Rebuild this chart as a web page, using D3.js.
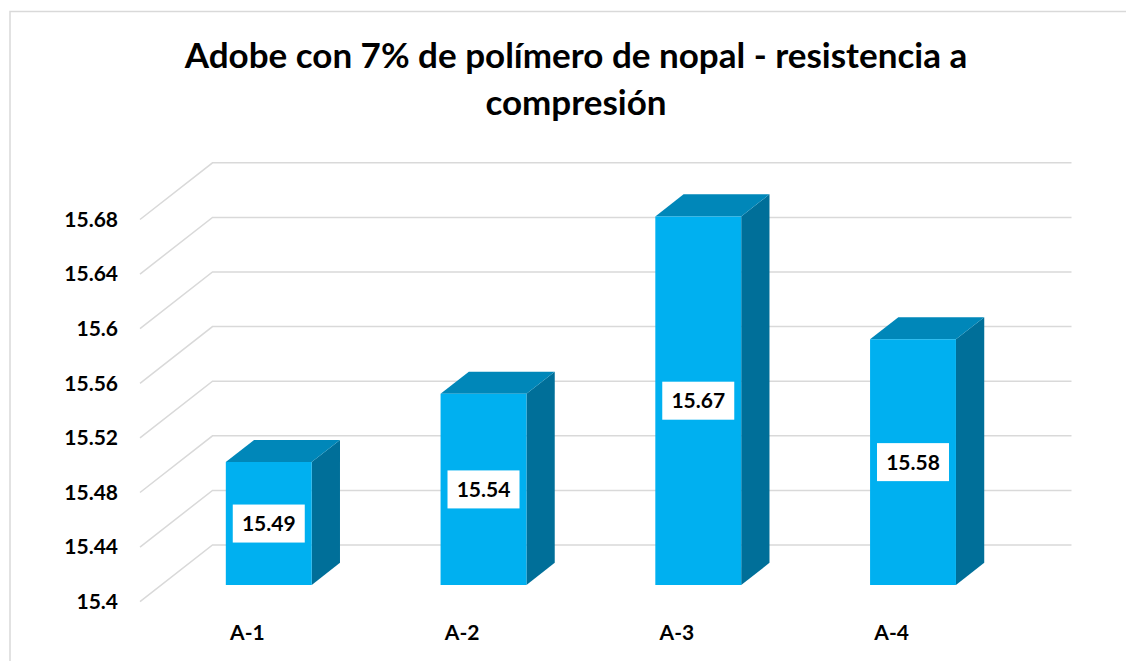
<!DOCTYPE html>
<html>
<head>
<meta charset="utf-8">
<script src="https://cdn.jsdelivr.net/npm/d3@7"></script>
<style>
  html, body { margin: 0; padding: 0; background: #fff; }
  svg { display: block; }
  text { font-family: Lato, "Open Sans", sans-serif; font-weight: bold; fill: #000; }
</style>
</head>
<body>
<svg id="chart" width="1126" height="661"></svg>
<script>
// Data
const titleLines = ["Adobe con 7% de polímero de nopal - resistencia a", "compresión"];
const categories = ["A-1", "A-2", "A-3", "A-4"];
const values = [15.49, 15.54, 15.67, 15.58];
const tickValues = [15.4, 15.44, 15.48, 15.52, 15.56, 15.6, 15.64, 15.68];
const tickLabels = ["15.4", "15.44", "15.48", "15.52", "15.56", "15.6", "15.64", "15.68"];

const svg = d3.select("#chart");
const W = 1126, H = 661;

// Chart frame
svg.append("rect")
  .attr("x", 10).attr("y", 11.5).attr("width", W + 20).attr("height", H + 20)
  .attr("fill", "#fff").attr("stroke", "#d9d9d9").attr("stroke-width", 1.5);

// 3D projection: depth t in [0,1] moves points right/up
const DX = 72.5, DY = -56.7;
const y = d3.scaleLinear().domain([15.4, 15.68]).range([601.7, 219.5]);
const x = d3.scaleBand().domain(categories).range([140, 999])
  .paddingInner(0.6).paddingOuter(0.3);
const proj = (px, v, t) => [px + DX * t, y(v) + DY * t];

// Gridlines: diagonal on the side wall, horizontal on the back wall
const grid = svg.append("g");
tickValues.forEach(v => {
  const a = proj(140, v, 0), b = proj(140, v, 1), c = proj(999, v, 1);
  grid.append("path")
    .attr("d", d3.line()([a, b, c]))
    .attr("fill", "none").attr("stroke", "#d9d9d9").attr("stroke-width", 1.5);
});

// Y tick labels
svg.append("g").selectAll("text").data(tickValues).join("text")
  .attr("x", 118).attr("y", d => y(d))
  .attr("dy", "0.35em").attr("text-anchor", "end")
  .attr("font-size", 21)
  .text((d, i) => tickLabels[i]);

// Bars (front face, top, right side)
const t0 = 0.295, t1 = 0.685;
const base = 15.4;
const bars = svg.append("g");
categories.forEach((c, i) => {
  const v = values[i];
  const xl = x(c), xr = x(c) + x.bandwidth();
  const fbl = proj(xl, base, t0), fbr = proj(xr, base, t0);
  const ftl = proj(xl, v, t0), ftr = proj(xr, v, t0);
  const btl = proj(xl, v, t1), btr = proj(xr, v, t1), bbr = proj(xr, base, t1);
  // side
  bars.append("path").attr("d", d3.line()([fbr, ftr, btr, bbr]) + "Z")
    .attr("fill", "#006f99");
  // top
  bars.append("path").attr("d", d3.line()([ftl, ftr, btr, btl]) + "Z")
    .attr("fill", "#0087b9");
  // front
  bars.append("path").attr("d", d3.line()([fbl, fbr, ftr, ftl]) + "Z")
    .attr("fill", "#00b0f0");

  // value label centred on the front face
  const cx = (xl + xr) / 2 + DX * t0;
  const cy = (y(v) + y(base)) / 2 + DY * t0;
  const bw = 72, bh = 38;
  bars.append("rect")
    .attr("x", cx - bw / 2).attr("y", cy - bh / 2)
    .attr("width", bw).attr("height", bh).attr("fill", "#fff");
  bars.append("text")
    .attr("x", cx).attr("y", cy).attr("dy", "0.36em")
    .attr("text-anchor", "middle").attr("font-size", 21)
    .text(v.toFixed(2));
});

// Category labels
svg.append("g").selectAll("text").data(categories).join("text")
  .attr("x", d => x(d) + x.bandwidth() / 2)
  .attr("y", 633).attr("dy", "0.35em")
  .attr("text-anchor", "middle").attr("font-size", 21)
  .text(d => d);

// Title
svg.append("g").selectAll("text").data(titleLines).join("text")
  .attr("x", 576).attr("y", (d, i) => 68 + i * 47)
  .attr("text-anchor", "middle").attr("font-size", 35)
  .text(d => d);
</script>
</body>
</html>
